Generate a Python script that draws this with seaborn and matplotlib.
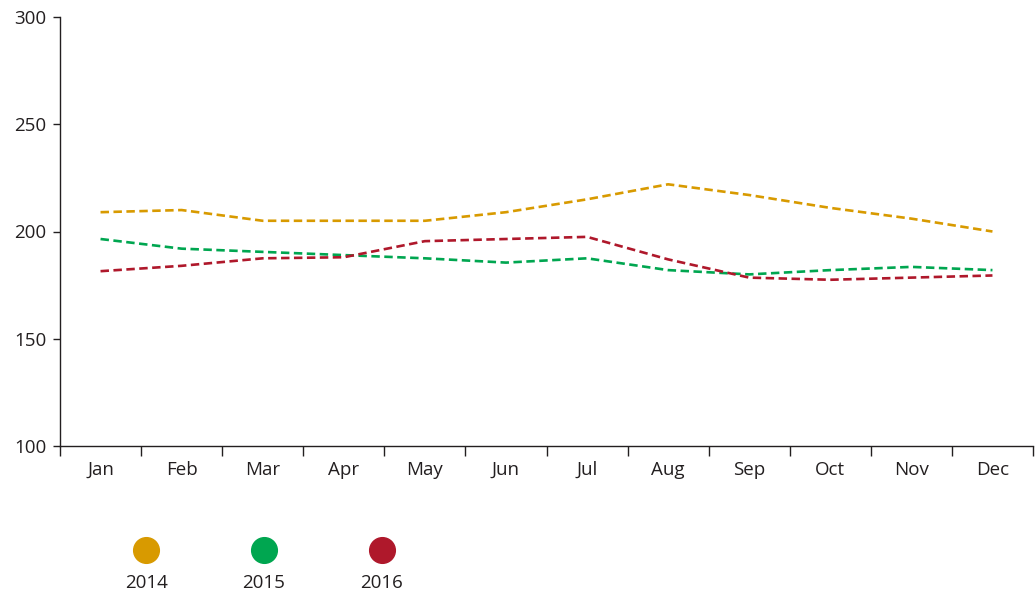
import matplotlib
matplotlib.use("Agg")
import matplotlib.pyplot as plt
from matplotlib.offsetbox import VPacker
import seaborn as sns
import numpy as np
import pandas as pd

months = ["Jan", "Feb", "Mar", "Apr", "May", "Jun",
          "Jul", "Aug", "Sep", "Oct", "Nov", "Dec"]
years = ["2014", "2015", "2016"]
values_2014 = [209, 210, 205, 205, 205, 209, 215, 222, 217, 211, 206, 200]
values_2015 = [196.5, 192, 190.5, 189, 187.5, 185.5, 187.5, 182, 180, 182, 183.5, 182]
values_2016 = [181.5, 184, 187.5, 188, 195.5, 196.5, 197.5, 187, 178.5, 177.5, 178.5, 179.5]
colors = ["#D89A00", "#00A650", "#AF182B"]

# Parameters
my_fontsize = 13.5
text_color = "#231F20"

df = pd.DataFrame({
    "month": months * 3,
    "value": values_2014 + values_2015 + values_2016,
    "year": [y for y in years for _ in months],
})

sns.set_style("white")
plt.rcParams["font.family"] = ["Open Sans", "DejaVu Sans"]
plt.rcParams["text.color"] = text_color
plt.rcParams["xtick.color"] = text_color
plt.rcParams["ytick.color"] = text_color

fig = plt.figure(figsize=(10.35, 5.95), dpi=100)
ax = fig.add_axes([60 / 1035, 149 / 595, 973 / 1035, 429 / 595])

sns.lineplot(data=df, x="month", y="value", hue="year", palette=colors,
             linewidth=1.9, ax=ax, legend=False, sort=False)
for line in ax.get_lines():
    line.set_linestyle((0, (3.2, 1.7)))

ax.set_xlim(-0.5, 11.5)
ax.set_ylim(100, 300)
ax.set_yticks([100, 150, 200, 250, 300])
ax.set_xticks(range(12))
ax.set_xticklabels(months, fontsize=my_fontsize)
ax.set_xticks(np.arange(-0.5, 12, 1), minor=True)
ax.tick_params(axis="x", which="major", bottom=True, length=0, pad=11, labelsize=my_fontsize)
ax.tick_params(axis="x", which="minor", bottom=True, length=7, width=1,
               color="#231F20", direction="out")
ax.tick_params(axis="y", left=True, length=5, width=1, color="#231F20", direction="out",
               pad=5, labelsize=my_fontsize)
ax.set_xlabel("")
ax.set_ylabel("")
for side in ["top", "right"]:
    ax.spines[side].set_visible(False)
for side in ["left", "bottom"]:
    ax.spines[side].set_color("#231F20")
    ax.spines[side].set_linewidth(1)

# legend: circle on top, year underneath
handles = [plt.Line2D([], [], linestyle="none", marker="o", markersize=18.5,
                      markerfacecolor=c, markeredgecolor=c) for c in colors]
leg = fig.legend(handles, years, loc="upper left", bbox_to_anchor=(0.1205, 0.086),
                 ncol=3, frameon=False, fontsize=my_fontsize, handlelength=1.2,
                 columnspacing=4.0, borderpad=0, borderaxespad=0)
for col in leg._legend_handle_box.get_children():
    for item in col.get_children():
        item.__class__ = VPacker
        item.align = "center"
        item.sep = 12

fig.savefig("out.png", dpi=100)
